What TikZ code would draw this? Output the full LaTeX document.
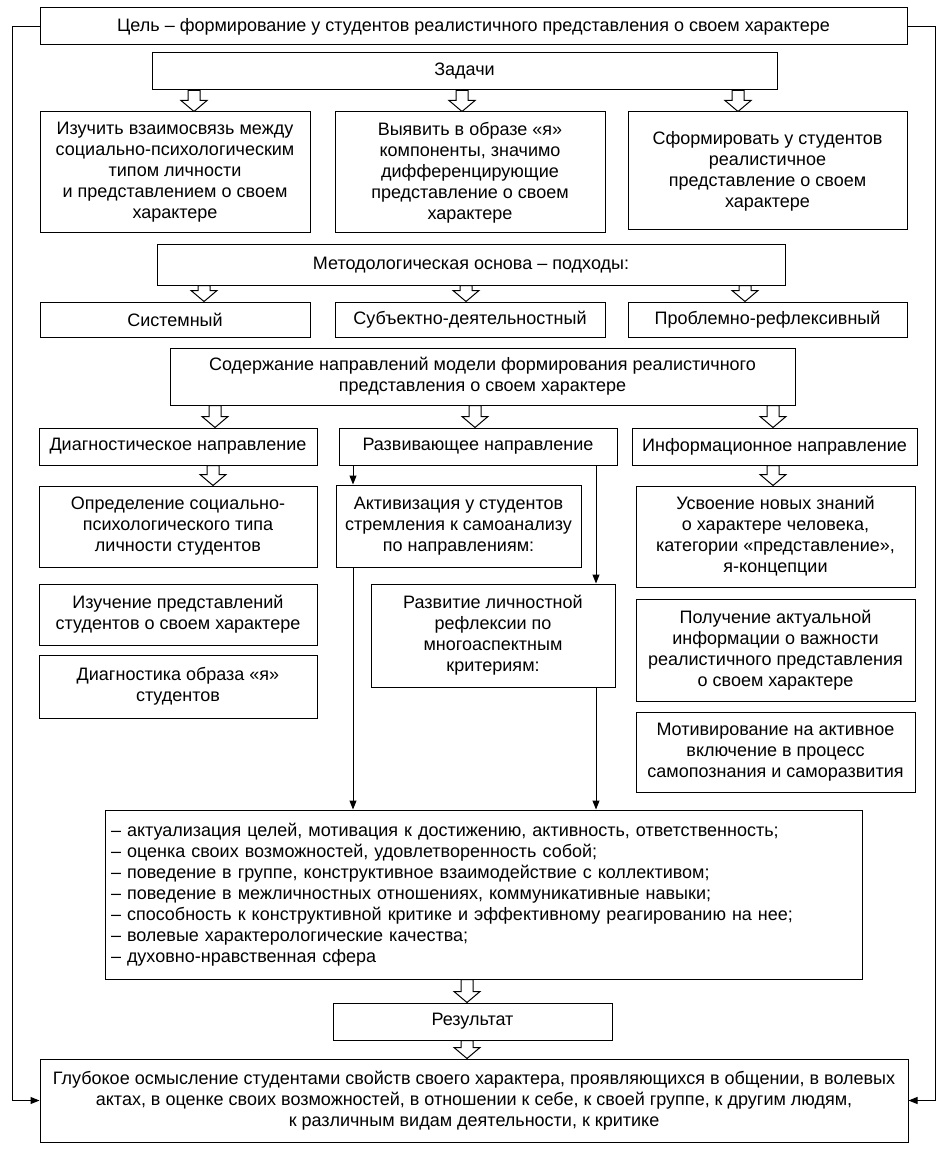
\documentclass[tikz,border=0pt]{standalone}
\usepackage{fontspec}
\setmainfont{Liberation Sans}
\usetikzlibrary{arrows.meta, calc}

\tikzset{
  box/.style={draw, line width=1pt, align=center, inner sep=2pt, font=\fontsize{18}{21}\selectfont},
  arr/.style={line width=1pt, -{Triangle[length=9pt,width=7pt]}},
  hollowarr/.style={draw, fill=white, line width=1pt, line join=miter},
}
% hollow block arrow: x position, upper node, lower node
\newcommand{\hollow}[3]{%
  \draw[hollowarr] let \p1=(#2.south), \p2=(#3.north), \p3=(#1,0) in
    (\x3-6pt,\y1) -- (\x3-6pt,\y2+11pt) -- (\x3-13pt,\y2+11pt) -- (\x3,\y2)
    -- (\x3+13pt,\y2+11pt) -- (\x3+6pt,\y2+11pt) -- (\x3+6pt,\y1) -- cycle;}

\begin{document}
\begin{tikzpicture}[x=1pt, y=-1pt]
  \useasboundingbox (0,0) rectangle (945,1158);
  % goal and tasks
  \node[box, minimum width=867pt, minimum height=37pt] (goal) at (473.5,26.5)
    {Цель – формирование у студентов реалистичного представления о своем характере};
  \node[box, minimum width=625pt, minimum height=37pt] (zad) at (464.5,71.5) {Задачи};
  \node[box, minimum width=270pt, minimum height=121pt] (t1) at (175,172.5)
    {Изучить взаимосвязь между\\социально-психологическим\\типом личности\\и представлением о своем\\характере};
  \node[box, minimum width=270pt, minimum height=121pt] (t2) at (470,172.5)
    {Выявить в образе «я»\\компоненты, значимо\\дифференцирующие\\представление о своем\\характере};
  \node[box, minimum width=279pt, minimum height=118pt] (t3) at (767.5,171)
    {Сформировать у студентов\\реалистичное\\представление о своем\\характере};
  \hollow{194}{zad}{t1}
  \hollow{462}{zad}{t2}
  \hollow{738}{zad}{t3}

  % approaches
  \node[box, minimum width=628pt, minimum height=40pt] (met) at (471,265)
    {Методологическая основа – подходы:};
  \node[box, minimum width=270pt, minimum height=35pt] (s1) at (175,319.5) {Системный};
  \node[box, minimum width=270pt, minimum height=35pt] (s2) at (470,319.5) {Субъектно-деятельностный};
  \node[box, minimum width=279pt, minimum height=35pt] (s3) at (767.5,319.5) {Проблемно-рефлексивный};
  \hollow{204}{met}{s1}
  \hollow{466}{met}{s2}
  \hollow{745}{met}{s3}

  % directions
  \node[box, minimum width=625pt, minimum height=57pt] (cont) at (482.5,376.5)
    {Содержание направлений модели формирования реалистичного\\представления о своем характере};
  \node[box, minimum width=278pt, minimum height=37pt] (diag) at (178,446.5) {Диагностическое направление};
  \node[box, minimum width=278pt, minimum height=37pt] (razv) at (478,446.5) {Развивающее направление};
  \node[box, minimum width=285pt, minimum height=37pt] (info) at (774.5,446.5) {Информационное направление};
  \hollow{215}{cont}{diag}
  \hollow{475}{cont}{razv}
  \hollow{773}{cont}{info}

  % diagnostic column
  \node[box, minimum width=278pt, minimum height=81pt] (d1) at (178,526.5)
    {Определение социально-\\психологического типа\\личности студентов};
  \node[box, minimum width=278pt, minimum height=61pt] (d2) at (178,614.5)
    {Изучение представлений\\студентов о своем характере};
  \node[box, minimum width=278pt, minimum height=63pt] (d3) at (178,686.5)
    {Диагностика образа «я»\\студентов};
  \hollow{213}{diag}{d1}

  % developing column
  \node[box, minimum width=245pt, minimum height=82pt] (akt) at (458.5,526)
    {Активизация у студентов\\стремления к самоанализу\\по направлениям:};
  \node[box, minimum width=244pt, minimum height=103pt] (razr) at (493,635.5)
    {Развитие личностной\\рефлексии по\\многоаспектным\\критериям:};

  % information column
  \node[box, minimum width=279pt, minimum height=101pt] (i1) at (775.5,536.5)
    {Усвоение новых знаний\\о характере человека,\\категории «представление»,\\я-концепции};
  \node[box, minimum width=279pt, minimum height=102pt] (i2) at (775.5,650)
    {Получение актуальной\\информации о важности\\реалистичного представления\\о своем характере};
  \node[box, minimum width=279pt, minimum height=80pt] (i3) at (775.5,752)
    {Мотивирование на активное\\включение в процесс\\самопознания и саморазвития};
  \hollow{773}{info}{i1}

  % criteria list, result
  \node[box, minimum width=757pt, minimum height=169pt, align=left, text width=745pt] (list) at (483.5,894.5)
    {– актуализация целей, мотивация к достижению, активность, ответственность;\\
     – оценка своих возможностей, удовлетворенность собой;\\
     – поведение в группе, конструктивное взаимодействие с коллективом;\\
     – поведение в межличностных отношениях, коммуникативные навыки;\\
     – способность к конструктивной критике и эффективному реагированию на нее;\\
     – волевые характерологические качества;\\
     – духовно-нравственная сфера};
  \node[box, minimum width=279pt, minimum height=37pt] (res) at (472.5,1021.5) {Результат};
  \node[box, minimum width=868pt, minimum height=83pt] (fin) at (474,1100.5)
    {Глубокое осмысление студентами свойств своего характера, проявляющихся в общении, в волевых\\
     актах, в оценке своих возможностей, в отношении к себе, к своей группе, к другим людям,\\
     к различным видам деятельности, к критике};
  \hollow{467}{list}{res}
  \hollow{467}{res}{fin}

  % thin arrows of the developing direction
  \coordinate (xl) at (353,0);
  \coordinate (xr) at (596,0);
  \draw[arr] (razv.south -| xl) -- (akt.north -| xl);
  \draw[arr] (akt.south -| xl) -- (list.north -| xl);
  \draw[arr] (razv.south -| xr) -- (razr.north -| xr);
  \draw[arr] (razr.south -| xr) -- (list.north -| xr);

  % feedback from goal to final result
  \coordinate (lx) at (12,0);
  \coordinate (rx) at (935,0);
  \draw[arr] (goal.west) -- (goal.west -| lx) -- (fin.west -| lx) -- (fin.west);
  \draw[arr] (goal.east) -- (goal.east -| rx) -- (fin.east -| rx) -- (fin.east);
\end{tikzpicture}
\end{document}
